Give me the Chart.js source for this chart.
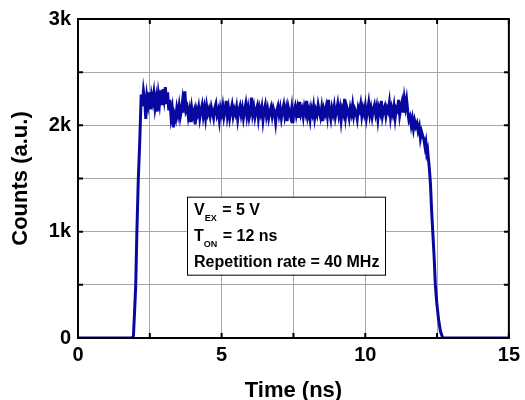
<!DOCTYPE html>
<html>
<head>
<meta charset="utf-8">
<script src="https://cdn.jsdelivr.net/npm/chart.js@4"></script>
<style>
  html, body { margin: 0; padding: 0; background: #fff; }
  #wrap { width: 525px; height: 400px; }
</style>
</head>
<body>
<div id="wrap"><canvas id="pulseChart" width="525" height="400"></canvas></div>
<script>
// rising edge (time in ns, counts)
const riseTime   = [0, 1.88, 1.93, 1.97, 2.01, 2.05, 2.10, 2.15];
const riseCounts = [0, 0, 20, 250, 500, 1000, 1500, 1850];

// plateau, sampled every 0.04 ns starting at 2.20 ns
const plateauStart = 2.20;
const plateauStep = 0.04;
const plateauCounts = [
  2290, 2180, 2320, 2240, 2060, 2270, 2200, 2310, 2150, 2280,
  2220, 2300, 2170, 2250, 2130, 2290, 2210, 2330, 2190, 2340,
  2250, 2360, 2200, 2310, 2140, 2240, 2080, 2150, 1980, 2100,
  2060, 2160, 2100, 2180, 2080, 2140, 2230, 2120, 2320, 2140,
  2170, 2080, 2140, 2030, 2160, 2090, 2130, 2010, 2150, 2110,
  2170, 2070, 2140, 2190, 2090, 2160, 2070, 2180, 2110, 2150,
  2090, 2170, 2120, 2070, 2160, 2200, 2100, 2140, 2050, 2160,
  2110, 2180, 2080, 2140, 2230, 2090, 2160, 2070, 2140, 2190,
  2090, 2150, 2110, 2170, 2060, 2140, 2180, 2100, 2160, 2070,
  2140, 2200, 2090, 2160, 2070, 2120, 2260, 2110, 2170, 2080,
  2140, 2180, 2070, 2160, 2110, 2170, 2050, 2140, 2190, 2090,
  2150, 2070, 2130, 2170, 2090, 2160, 2120, 2030, 2140, 2180,
  2100, 2160, 2070, 2140, 2190, 2090, 2150, 2040, 2170, 2120,
  2080, 2160, 2020, 2140, 2180, 2100, 2160, 2070, 2220, 2110,
  2150, 2080, 2170, 2120, 2230, 2090, 2140, 2060, 2160, 2110,
  2180, 2070, 2140, 2100, 2190, 2130, 2080, 2160, 2040, 2150,
  2110, 2170, 2090, 2240, 2120, 2060, 2160, 2110, 2180, 2080,
  2140, 2200, 2100, 2160, 2050, 2150, 2110, 2250, 2090, 2170,
  2130, 2070, 2160, 2110, 2190, 2090, 2150, 2120, 2060, 2170,
  2140, 2200, 2090, 2160, 2110, 2180, 2070, 2140, 2210, 2100,
  2160, 2080, 2150, 2190, 2110, 2170, 2060, 2160, 2120, 2230,
  2090, 2150, 2180, 2090, 2160, 2130, 2210, 2080, 2160, 2110,
  2180, 2070, 2160, 2140, 2240, 2100, 2170, 2220, 2120, 2250,
  2170, 2240, 2130, 2050, 2080, 2000, 2060, 1970, 2040, 1990,
  2020, 1950, 1990, 1880, 1940, 1900
];

// falling edge
const fallTime   = [12.04, 12.08, 12.11, 12.14, 12.17, 12.20, 12.23, 12.27, 12.31, 12.35, 12.40, 12.44, 12.49, 12.55, 12.62, 12.70, 15];
const fallCounts = [1870, 1800, 1840, 1740, 1770, 1680, 1600, 1450, 1200, 1000, 750, 500, 330, 180, 60, 0, 0];

const infoLines = [
  { main: 'V', sub: 'EX', rest: ' = 5 V' },
  { main: 'T', sub: 'ON', rest: ' = 12 ns' },
  { main: 'Repetition rate = 40 MHz', sub: '', rest: '' }
];

let points = [];
riseTime.forEach((t, i) => points.push({ x: t, y: riseCounts[i] }));
plateauCounts.forEach((c, i) => points.push({ x: plateauStart + i * plateauStep, y: c }));
fallTime.forEach((t, i) => points.push({ x: t, y: fallCounts[i] }));

const FAMILY = '"Liberation Sans", Arial, sans-serif';
const BOLD = 'bold 16px ' + FAMILY;

// frame, inward ticks and the info box
const decorations = {
  id: 'decorations',
  afterDraw(chart) {
    const ctx = chart.ctx;
    const a = chart.chartArea;
    const xs = chart.scales.x, ys = chart.scales.y;
    ctx.save();
    ctx.strokeStyle = '#000';
    ctx.lineWidth = 2;
    ctx.beginPath();
    xs.ticks.forEach(t => {
      const px = xs.getPixelForValue(t.value);
      ctx.moveTo(px, a.bottom); ctx.lineTo(px, a.bottom - 5);
      ctx.moveTo(px, a.top); ctx.lineTo(px, a.top + 5);
    });
    ys.ticks.forEach(t => {
      const py = ys.getPixelForValue(t.value);
      ctx.moveTo(a.left, py); ctx.lineTo(a.left + 5, py);
      ctx.moveTo(a.right, py); ctx.lineTo(a.right - 5, py);
    });
    ctx.stroke();
    ctx.strokeRect(a.left, a.top, a.right - a.left, a.bottom - a.top);

    // info box
    const bx = a.left + (a.right - a.left) * 0.253;
    const by = a.top + (a.bottom - a.top) * 0.557;
    const bw = 198, bh = 78;
    ctx.fillStyle = '#fff';
    ctx.fillRect(bx, by, bw, bh);
    ctx.lineWidth = 1;
    ctx.strokeRect(bx + 0.5, by + 0.5, bw, bh);
    ctx.fillStyle = '#000';
    ctx.textBaseline = 'alphabetic';
    const baselines = [18, 44, 70];
    infoLines.forEach((ln, i) => {
      const y = by + baselines[i];
      let x = bx + 7;
      ctx.font = BOLD;
      ctx.fillText(ln.main, x, y);
      x += ctx.measureText(ln.main).width;
      if (ln.sub) {
        ctx.font = 'bold 9px ' + FAMILY;
        ctx.fillText(ln.sub, x, y + 6);
        x += ctx.measureText(ln.sub).width + 1;
        ctx.font = BOLD;
        ctx.fillText(ln.rest, x, y);
      }
    });
    ctx.restore();
  }
};

const tickFont = { family: FAMILY, size: 20, weight: 'bold' };
const titleFont = { family: FAMILY, size: 22, weight: 'bold' };

new Chart(document.getElementById('pulseChart').getContext('2d'), {
  type: 'line',
  data: {
    datasets: [{
      data: points,
      borderColor: '#0808a0',
      borderWidth: 3,
      pointRadius: 0,
      tension: 0,
      fill: false
    }]
  },
  options: {
    responsive: false,
    animation: false,
    layout: { padding: { left: 0, right: 14, top: 17, bottom: 0 } },
    plugins: { legend: { display: false }, tooltip: { enabled: false } },
    scales: {
      x: {
        type: 'linear',
        min: 0, max: 15,
        ticks: {
          stepSize: 2.5,
          autoSkip: false,
          maxRotation: 0,
          color: '#000',
          font: tickFont,
          padding: 5,
          callback: v => (v % 5 === 0 ? String(v) : '')
        },
        grid: { color: '#a6a6a6', lineWidth: 1, drawTicks: false },
        border: { color: '#000', width: 2 },
        title: { display: true, text: 'Time (ns)', color: '#000', font: titleFont, padding: { top: 10, bottom: -4 } },
        afterFit: s => { s.height = 62; }
      },
      y: {
        min: 0, max: 3000,
        ticks: {
          stepSize: 500,
          autoSkip: false,
          color: '#000',
          font: tickFont,
          padding: 7,
          callback: v => (v % 1000 === 0 ? (v === 0 ? '0' : v / 1000 + 'k') : '')
        },
        grid: { color: '#a6a6a6', lineWidth: 1, drawTicks: false },
        border: { color: '#000', width: 2 },
        title: { display: true, text: 'Counts (a.u.)', color: '#000', font: titleFont, padding: { top: 8, bottom: 0 } },
        afterFit: s => { s.width = 78; }
      }
    }
  },
  plugins: [decorations]
});
</script>
</body>
</html>
